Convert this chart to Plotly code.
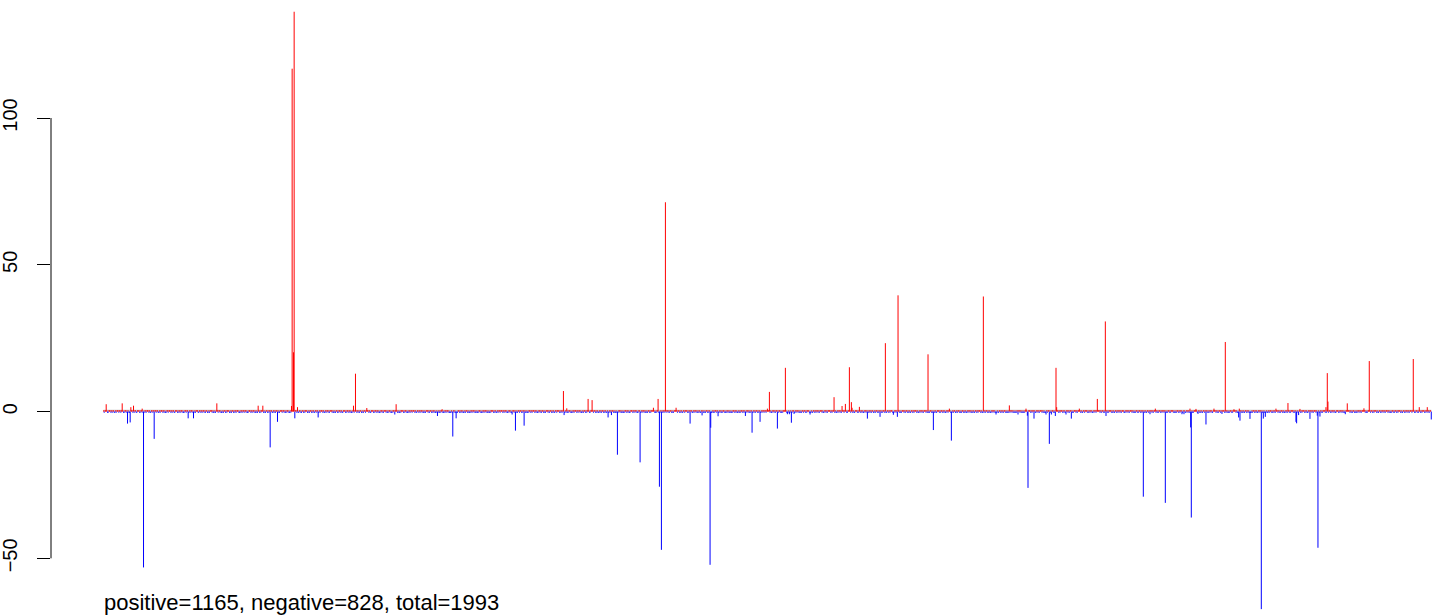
import plotly.graph_objects as go

# ---------------- data ----------------
N_TOTAL = 1993
label_text = "positive=1165, negative=828, total=1993"

tick_vals = [-50, 0, 50, 100]
tick_text = ["\u221250", "0", "50", "100"]

# notable bars (index, value)
spike_index = [5, 29, 37, 41, 42, 46, 59, 61, 77, 128, 136, 171, 233, 240, 251, 262,
               283, 284, 286, 287, 288, 292, 323, 376, 379, 396, 438, 440, 502, 509,
               525, 530, 614, 619, 632, 691, 692, 696, 728, 734, 758, 763, 772, 806,
               826, 833, 835, 838, 844, 860, 881, 899, 911, 912, 923, 964, 974, 986,
               997, 1000, 1012, 1024, 1027, 1030, 1033, 1037, 1061, 1097, 1109, 1114,
               1120, 1123, 1124, 1135, 1147, 1166, 1174, 1186, 1192, 1193, 1238, 1246,
               1270, 1273, 1321, 1340, 1360, 1373, 1385, 1387, 1388, 1397, 1415, 1420,
               1423, 1429, 1430, 1431, 1445, 1453, 1465, 1492, 1504, 1505, 1561, 1571,
               1579, 1594, 1619, 1622, 1631, 1632, 1633, 1640, 1643, 1655, 1667, 1679,
               1684, 1697, 1704, 1705, 1706, 1721, 1738, 1741, 1744, 1760, 1778, 1790,
               1791, 1794, 1796, 1811, 1822, 1823, 1826, 1835, 1837, 1838, 1864, 1867,
               1892, 1900, 1966, 1975, 1987, 1993]
spike_value = [2.5, 2.8, -4.1, -3.7, 1.5, 2.0, 1.0, -53.1, -9.3, -2.3, -2.3, 2.8, 2.0, 2.0, -12.2, -3.5,
               1.9, 116.8, 20.2, 136.2, -2.3, 1.5, -2.0, 2.0, 12.9, 1.2, -1.0, 2.5, -1.5, 0.8,
               -8.5, -2.3, -1.0, -6.5, -4.8, 7.0, -1.2, 1.1, 4.3, 3.9, -2.0, -1.2, -14.7, -17.3,
               1.3, 4.3, -25.6, -47.1, 71.3, 1.3, -4.1, -1.3, -52.2, -5.5, -1.6, -1.5, -7.2, -3.5,
               1.0, 6.7, -5.8, 14.9, -0.9, -0.9, -3.8, -0.8, -1.0, 4.9, 1.9, 2.6,
               15.1, 3.2, 1.3, 1.6, -2.4, -1.8, 23.3, -1.1, -1.8, 39.6, 19.5, -6.3,
               1.0, -9.9, 39.2, -1.0, 2.1, -1.0, 1.0, -1.4, -26.0, -2.4, -1.0, -11.0,
               -1.0, -1.5, 14.9, 1.5, -1.0, -2.4, 1.0, 4.3, 30.7, -1.5, -29.0, -0.9,
               1.0, -31.1, -0.9, -0.9, 1.0, -5.4, -36.1, 0.9, -0.8, -4.4, 1.0, -0.8,
               23.7, 0.8, -2.0, 1.0, -3.1, -2.5, -67.3, -2.4, -1.8, 1.0, 2.9, -3.5,
               -4.0, -1.2, 0.9, -2.5, -1.4, -46.4, -1.7, 1.5, 13.1, 3.4, -0.9, 2.8,
               1.1, 17.2, 17.9, 1.5, 1.5, -2.7]

# signs of the many tiny bars along the zero line (hand-typed estimate)
sign_rows = [
    "+-++-+--+++-+-++--+-+++-++-+-+--++-+++--+-++-+-++--+++-+-+--++-+-+++-+--++-+-++-++--+-+++-+-+--++-+",
    "++-+-++--+++-+-+-++-+--++-+++-+-++-+--+-+++--++-+-++-+-++--+-+++-+-+--+++-++-+--+-++-+-+++--+-++-+-",
    "+-+++--+-+-++-++-+--+++-+-++-+-+--++-+-+++-+--++-+-++++--+-+-++-+--+++-++-+-+-++--+-+++-+-++-+--++-",
    "-++-+-+++--+-++-+-+--++-++-+-+++-+--+-++-+-+++-+-+--++-+-++-+--+++-+-++-+-+--++-+++-+-+-++--+-++-+-",
    "++-+--+++-+-++-+-+--++-+-+++-+-+-++--+-++-+++-+--+-+++-+-++--+-+-++-+++-+--++-+-++-+-+--+++-+-++-+-",
    "+-+--++-+-+-++--+-+-++-+---+-++-+-+--++-+-+-+--+-++-+--+-+-++-+-+--+-++--+-+-++-+-+--+-+++-+-+--+-+",
    "+-+++-+-++-+--++-+-+++-+-+--++-++-+-+++-+--+-++-+-+++-+-+--++-+-++-+--+++-+-++-+-+--++-+++-+-+-++--",
    "+-+-+-++--+-+-+++-+-++-+--+-++-+-+-+--++-+-++-+-+--+-+-++-+-+--++-+-+-++-+--+-+-++-+-+--+-++-+-+--+",
    "++-+-++-+--+++-+-++-+-+--++-+-+++-+--+-++-+-+++-+-+--++-+-++-+--+++-+-++-+-+--++-+++-+-+-++--+-++-+",
    "-+-+--+-+-+--++-+-+-+--+-+-++-+--+-+-+-++--+-+-+-+--+-++-+-+--+-+-++-+-+--++-+-+-+--+-+-++-+-+--+-+",
    "+-++-+-+++-+--++-+-++-+-++--+-+++-+-+-++-+--+++-+-++-+-+--++-++-+-+++-+-+--++-+-++-+-+++-+--++-+-++",
    "++-+-+++-+--+-++-+-+++-+-+--++-+-++-+--+++-+-++-+-+--++-+++-+-+-++--+-++-+-+++-+-++-+--++-+-+++-+-+",
    "+-+-++-+--+++-+-++-+-+--++-+-+++-+--+-++-+-+++-+-+--++-+-++-+--+++-+-++-+-+--++-+++-+-+-++--+-++-+-",
    "-++-+-+--+-++-+-+-+--++-+-+++-+--+-+-++-+-+--+-++-+-+-+--++-+-+-++-+--+-+-++-+-+--+-+-++-+-+--+-+-+",
    "+-+++-+-++-+--++-+-+++-+-+--++-++-+-+++-+--+-++-+-+++-+-+--++-+-++-+--+++-+-++-+-+--++-+++-+-+-++--",
    "+-++-+-+++-+-++-+--++-+-+++-+-+--++-+-++-+-+++--+-++-+-+++-+-+--++-+-++-+-+++-+--++-+-++-+-+++-+-+-",
    "++-+-++-+-+--++-+-+++-+--+-++-+-+++-+-+--++-+-++-+--+++-+-++-+-+--++-+++-+-+-++--+-++-+-+-++-+-+++-",
    "+-+-+--++-+-+-++-+--+-++-+-+--++-+-+-+--+-++-+-+--++-+-+-++-+-+--+-++-+-+-+--++-+-+-++-+--+-+-++-+-",
    "+++-+-++-+--++-+-+++-+-+--++-++-+-+++-+--+-++-+-+++-+-+--++-+-++-+--+++-+-++-+-+--++-+++-+-+-++--+-",
    "+-++-+-+++-+-+--++-+-++-+-+++-+--++-+-++-+-+++-+-+--++-+-++-+-+++-+--++-+-++-+-+++-+-+--++-+-++-+-+",
    "++-+-++-+-+++-+--++-+-+++-+-+--++-+-++-+-+++-+--++-+-++-+-+++-+-+--++-+-++-+-+++-+--++-+-++-+-+++-+",
]
tiny_pos = 0.4
tiny_neg = -0.4

# ---------------- build values ----------------
signs = "".join(sign_rows)
index = list(range(1, N_TOTAL + 1))
values = []
for i in index:
    s = signs[i - 1] if i - 1 < len(signs) else "+"
    values.append(tiny_pos if s == "+" else tiny_neg)
for k, v in zip(spike_index, spike_value):
    values[k - 1] = v

def segs(sel):
    xs, ys = [], []
    for i, v in zip(index, values):
        if sel(v):
            xs += [i, i, None]
            ys += [0, v, None]
    return xs, ys

px_, py_ = segs(lambda v: v > 0)
nx_, ny_ = segs(lambda v: v < 0)

W, H = 1439, 615
LEFT = 51

fig = go.Figure()
fig.add_trace(go.Scatter(x=[index[0], index[-1]], y=[0.35, 0.35], mode="lines",
                         line=dict(color="#c4c4c4", width=1.6), hoverinfo="skip"))
fig.add_trace(go.Scatter(x=px_, y=py_, mode="lines", line=dict(color="#ff0000", width=1),
                         hoverinfo="skip"))
fig.add_trace(go.Scatter(x=nx_, y=ny_, mode="lines", line=dict(color="#0000ff", width=1),
                         hoverinfo="skip"))

FONT = "Liberation Sans, Arial, Helvetica, sans-serif"

# y axis line spanning the tick range only (like R's axis())
fig.add_shape(type="line", xref="paper", yref="y", x0=0, x1=0,
              y0=tick_vals[0], y1=tick_vals[-1], line=dict(color="black", width=1))

fig.add_annotation(text=label_text, xref="paper", yref="paper",
                   x=(102 - LEFT) / (W - LEFT), y=(H - 602) / H,
                   xanchor="left", yanchor="middle", showarrow=False,
                   font=dict(family=FONT, size=22, color="black"))

fig.update_layout(
    width=W, height=H,
    margin=dict(l=LEFT, r=0, t=0, b=0, autoexpand=False),
    paper_bgcolor="white", plot_bgcolor="white",
    showlegend=False,
    hovermode=False,
    xaxis=dict(visible=False, range=[-77.8, 2004.6], automargin=False),
    yaxis=dict(range=[-69.3, 140.2], showgrid=False, zeroline=False, showline=False,
               automargin=False,
               tickmode="array", tickvals=tick_vals, ticktext=tick_text,
               ticks="outside", ticklen=13, tickwidth=1, tickcolor="black",
               tickangle=-90, ticklabelstandoff=12,
               tickfont=dict(family=FONT, size=20, color="black")),
)

# remove the default 8px page margin so the figure fills the window exactly
fig.write_html("out.html",
               config={"displayModeBar": False, "staticPlot": True},
               post_script="document.body.style.margin='0';document.body.style.overflow='hidden';")
